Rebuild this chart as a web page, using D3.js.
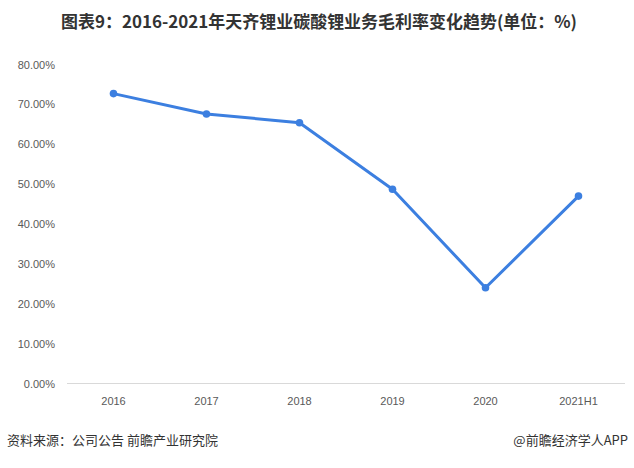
<!DOCTYPE html>
<html><head><meta charset="utf-8">
<script src="https://cdn.jsdelivr.net/npm/d3@7"></script>
<style>body{margin:0;background:#fff}svg{display:block}</style>
</head><body>
<script>
const categories = ["2016","2017","2018","2019","2020","2021H1"];
const values = [72.7, 67.6, 65.4, 48.7, 24.0, 47.0];
const yTicks = [0,10,20,30,40,50,60,70,80];
const title = "图表9：2016-2021年天齐锂业碳酸锂业务毛利率变化趋势(单位：%)";
const source = "资料来源：公司公告 前瞻产业研究院";
const credit = "@前瞻经济学人APP";

const W=634,H=468;
const svg=d3.select("body").append("svg").attr("width",W).attr("height",H);
const font='"Noto Sans CJK SC","Microsoft YaHei",sans-serif';
const x=d3.scaleBand().domain(categories).range([67,625]);
const y=d3.scaleLinear().domain([0,80]).range([383.5,64.5]);

svg.append("text").attr("x",319).attr("y",28).attr("text-anchor","middle")
  .attr("font-family",font).attr("font-weight","bold").attr("font-size",17).attr("fill","#333")
  .attr("textLength",516).attr("lengthAdjust","spacingAndGlyphs")
  .text(title);

svg.append("line").attr("x1",67).attr("x2",625).attr("y1",y(0)).attr("y2",y(0))
  .attr("stroke","#d9d9d9").attr("stroke-width",1);

const ya=svg.append("g").attr("transform","translate(55,0)")
  .call(d3.axisLeft(y).tickValues(yTicks).tickSize(0).tickPadding(0).tickFormat(d=>d.toFixed(2)+"%"));
ya.select(".domain").remove();
ya.selectAll("text").attr("font-family","'Liberation Sans',Arial,sans-serif").attr("font-size",11).attr("fill","#595959");

const xa=svg.append("g").attr("transform",`translate(0,${y(0)})`)
  .call(d3.axisBottom(x).tickSize(0).tickPadding(14));
xa.select(".domain").remove();
xa.selectAll("text").attr("font-family","'Liberation Sans',Arial,sans-serif").attr("font-size",11).attr("fill","#595959");

const data=categories.map((c,i)=>({c,v:values[i]}));
const cx=d=>x(d.c)+x.bandwidth()/2;
svg.append("path").datum(data).attr("fill","none").attr("stroke","#3c7fe0").attr("stroke-width",3)
  .attr("stroke-linejoin","round")
  .attr("d",d3.line().x(cx).y(d=>y(d.v)));
svg.selectAll("circle.pt").data(data).enter().append("circle").attr("class","pt")
  .attr("cx",cx).attr("cy",d=>y(d.v)).attr("r",3.8).attr("fill","#3c7fe0");

svg.append("text").attr("x",7).attr("y",445).attr("font-family",font).attr("font-size",13).attr("fill","#333").text(source);
svg.append("text").attr("x",628).attr("y",445).attr("text-anchor","end").attr("font-family",font).attr("font-size",13).attr("fill","#333").text(credit);
</script>
</body></html>
